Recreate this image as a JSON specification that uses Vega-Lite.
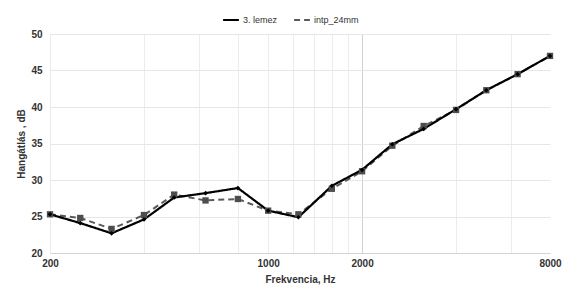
{
  "$schema": "https://vega.github.io/schema/vega-lite/v6.json",
  "width": 500,
  "height": 219,
  "autosize": {"type": "none"},
  "padding": {"left": 50, "top": 34, "right": 14, "bottom": 38},
  "background": "white",
  "data": {
    "values": [
      {"f": 200, "s": "3. lemez", "v": 25.3},
      {"f": 250, "s": "3. lemez", "v": 24.1},
      {"f": 315, "s": "3. lemez", "v": 22.7},
      {"f": 400, "s": "3. lemez", "v": 24.6},
      {"f": 500, "s": "3. lemez", "v": 27.6},
      {"f": 630, "s": "3. lemez", "v": 28.2},
      {"f": 800, "s": "3. lemez", "v": 28.9},
      {"f": 1000, "s": "3. lemez", "v": 25.8},
      {"f": 1250, "s": "3. lemez", "v": 24.9},
      {"f": 1600, "s": "3. lemez", "v": 29.2},
      {"f": 2000, "s": "3. lemez", "v": 31.4},
      {"f": 2500, "s": "3. lemez", "v": 34.9},
      {"f": 3150, "s": "3. lemez", "v": 37.0},
      {"f": 4000, "s": "3. lemez", "v": 39.7},
      {"f": 5000, "s": "3. lemez", "v": 42.3},
      {"f": 6300, "s": "3. lemez", "v": 44.5},
      {"f": 8000, "s": "3. lemez", "v": 47.0},
      {"f": 200, "s": "intp_24mm", "v": 25.3},
      {"f": 250, "s": "intp_24mm", "v": 24.8},
      {"f": 315, "s": "intp_24mm", "v": 23.3},
      {"f": 400, "s": "intp_24mm", "v": 25.2},
      {"f": 500, "s": "intp_24mm", "v": 28.0},
      {"f": 630, "s": "intp_24mm", "v": 27.2},
      {"f": 800, "s": "intp_24mm", "v": 27.4},
      {"f": 1000, "s": "intp_24mm", "v": 25.8},
      {"f": 1250, "s": "intp_24mm", "v": 25.3},
      {"f": 1600, "s": "intp_24mm", "v": 28.8},
      {"f": 2000, "s": "intp_24mm", "v": 31.2},
      {"f": 2500, "s": "intp_24mm", "v": 34.7},
      {"f": 3150, "s": "intp_24mm", "v": 37.4},
      {"f": 4000, "s": "intp_24mm", "v": 39.6},
      {"f": 5000, "s": "intp_24mm", "v": 42.3},
      {"f": 6300, "s": "intp_24mm", "v": 44.5},
      {"f": 8000, "s": "intp_24mm", "v": 47.0}
    ]
  },
  "encoding": {
    "x": {
      "field": "f",
      "type": "quantitative",
      "scale": {"type": "log", "domain": [200, 8000], "nice": false},
      "axis": {
        "title": "Frekvencia, Hz",
        "titleFontWeight": "bold",
        "titleFontSize": 10,
        "titleColor": "#333333",
        "titlePadding": 6,
        "values": [200, 400, 600, 800, 1000, 1200, 1400, 1600, 1800, 2000, 4000, 6000, 8000],
        "format": "d",
        "labelExpr": "indexof([200, 1000, 2000, 8000], datum.value) >= 0 ? datum.label : ''",
        "labelOverlap": false,
        "labelFlush": false,
        "labelFontWeight": "bold",
        "labelFontSize": 10,
        "labelColor": "#333333",
        "labelPadding": 5,
        "ticks": false,
        "domainColor": "#d4d4d4",
        "domainWidth": 1.2,
        "grid": true,
        "gridColor": {"condition": {"test": "datum.value == 2000", "value": "#d0d0d0"}, "value": "#ececec"},
        "gridOpacity": {"condition": {"test": "datum.value == 8000", "value": 0}, "value": 1}
      }
    },
    "y": {
      "field": "v",
      "type": "quantitative",
      "scale": {"domain": [20, 50], "nice": false, "zero": false},
      "axis": {
        "title": "Hangátlás , dB",
        "titleFontWeight": "bold",
        "titleFontSize": 10,
        "titleColor": "#333333",
        "titlePadding": 4,
        "values": [20, 25, 30, 35, 40, 45, 50],
        "labelFontWeight": "bold",
        "labelFontSize": 10,
        "labelColor": "#333333",
        "labelPadding": 8,
        "ticks": false,
        "domain": false,
        "grid": true,
        "gridColor": "#e6e6e6"
      }
    }
  },
  "layer": [
    {
      "transform": [{"filter": "datum.s === 'intp_24mm'"}],
      "mark": {"type": "line", "strokeWidth": 2},
      "encoding": {
        "color": {"field": "s", "type": "nominal", "scale": {"domain": ["3. lemez", "intp_24mm"], "range": ["#000000", "#5a5a5a"]}, "title": null},
        "strokeDash": {"field": "s", "type": "nominal", "scale": {"domain": ["3. lemez", "intp_24mm"], "range": [[1, 0], [6, 4]]}, "title": null}
      }
    },
    {
      "transform": [{"filter": "datum.s === '3. lemez'"}],
      "mark": {"type": "line", "strokeWidth": 2.2},
      "encoding": {
        "color": {"field": "s", "type": "nominal", "title": null},
        "strokeDash": {"field": "s", "type": "nominal", "title": null}
      }
    },
    {
      "transform": [{"filter": "datum.s === 'intp_24mm'"}],
      "mark": {"type": "square", "color": "#4d4d4d", "size": 40, "opacity": 1},
      "encoding": {}
    },
    {
      "transform": [{"filter": "datum.s === '3. lemez'"}],
      "mark": {"type": "point", "shape": "diamond", "filled": true, "color": "#000000", "size": 22, "opacity": 1},
      "encoding": {}
    }
  ],
  "resolve": {"scale": {"color": "shared", "strokeDash": "shared"}},
  "config": {
    "view": {"stroke": null},
    "font": "Liberation Sans",
    "legend": {
      "orient": "none",
      "legendX": 172,
      "legendY": -23,
      "direction": "horizontal",
      "labelFontSize": 9,
      "labelColor": "#333333",
      "symbolStrokeWidth": 2,
      "symbolSize": 250,
      "columnPadding": 12,
      "labelOffset": 3
    }
  }
}
